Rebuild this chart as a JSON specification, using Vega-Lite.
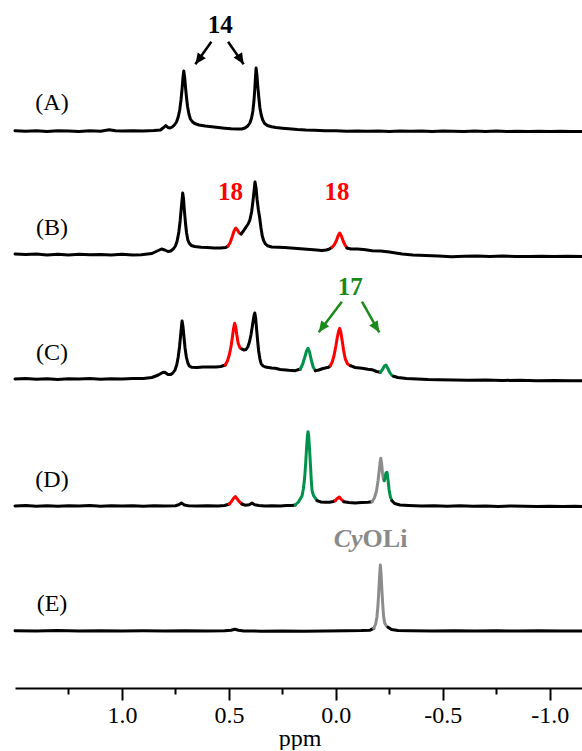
{
"$schema": "https://vega.github.io/schema/vega-lite/v6.json",
"padding": {"left": 13, "top": 12, "right": 0, "bottom": 0},
"background": "white",
"spacing": 0,
"bounds": "flush",
"data": {"values": [
{"s":"A","g":0,"c":"k","p":1.5,"v":0.3},{"s":"A","g":0,"c":"k","p":1.45,"v":-0.3},{"s":"A","g":0,"c":"k","p":1.4,"v":0.2},{"s":"A","g":0,"c":"k","p":1.35,"v":-0.4},{"s":"A","g":0,"c":"k","p":1.3,"v":0.3},{"s":"A","g":0,"c":"k","p":1.25,"v":0},{"s":"A","g":0,"c":"k","p":1.2,"v":-0.5},{"s":"A","g":0,"c":"k","p":1.15,"v":0.2},{"s":"A","g":0,"c":"k","p":1.1,"v":-0.2},{"s":"A","g":0,"c":"k","p":1.06,"v":1.3},{"s":"A","g":0,"c":"k","p":1.03,"v":0.2},{"s":"A","g":0,"c":"k","p":1.0,"v":0},{"s":"A","g":0,"c":"k","p":0.95,"v":0.3},{"s":"A","g":0,"c":"k","p":0.9,"v":0},{"s":"A","g":0,"c":"k","p":0.85,"v":0.5},{"s":"A","g":0,"c":"k","p":0.82,"v":1},{"s":"A","g":0,"c":"k","p":0.805,"v":3.5},{"s":"A","g":0,"c":"k","p":0.795,"v":5.5},{"s":"A","g":0,"c":"k","p":0.785,"v":3.5},{"s":"A","g":0,"c":"k","p":0.775,"v":3},{"s":"A","g":0,"c":"k","p":0.765,"v":4},{"s":"A","g":0,"c":"k","p":0.755,"v":6},{"s":"A","g":0,"c":"k","p":0.745,"v":9},{"s":"A","g":0,"c":"k","p":0.737,"v":14},{"s":"A","g":0,"c":"k","p":0.73,"v":21},{"s":"A","g":0,"c":"k","p":0.724,"v":31},{"s":"A","g":0,"c":"k","p":0.719,"v":42},{"s":"A","g":0,"c":"k","p":0.715,"v":53},{"s":"A","g":0,"c":"k","p":0.711,"v":60},{"s":"A","g":0,"c":"k","p":0.707,"v":54},{"s":"A","g":0,"c":"k","p":0.703,"v":44},{"s":"A","g":0,"c":"k","p":0.698,"v":33},{"s":"A","g":0,"c":"k","p":0.693,"v":24},{"s":"A","g":0,"c":"k","p":0.687,"v":17},{"s":"A","g":0,"c":"k","p":0.68,"v":12},{"s":"A","g":0,"c":"k","p":0.672,"v":9.5},{"s":"A","g":0,"c":"k","p":0.66,"v":7.5},{"s":"A","g":0,"c":"k","p":0.64,"v":6},{"s":"A","g":0,"c":"k","p":0.61,"v":5},{"s":"A","g":0,"c":"k","p":0.58,"v":4.3},{"s":"A","g":0,"c":"k","p":0.55,"v":3.5},{"s":"A","g":0,"c":"k","p":0.52,"v":2.8},{"s":"A","g":0,"c":"k","p":0.49,"v":2.2},{"s":"A","g":0,"c":"k","p":0.46,"v":2},{"s":"A","g":0,"c":"k","p":0.44,"v":2},{"s":"A","g":0,"c":"k","p":0.425,"v":3},{"s":"A","g":0,"c":"k","p":0.412,"v":5},{"s":"A","g":0,"c":"k","p":0.402,"v":8},{"s":"A","g":0,"c":"k","p":0.394,"v":13},{"s":"A","g":0,"c":"k","p":0.388,"v":20},{"s":"A","g":0,"c":"k","p":0.383,"v":30},{"s":"A","g":0,"c":"k","p":0.379,"v":42},{"s":"A","g":0,"c":"k","p":0.376,"v":53},{"s":"A","g":0,"c":"k","p":0.373,"v":63},{"s":"A","g":0,"c":"k","p":0.369,"v":56},{"s":"A","g":0,"c":"k","p":0.365,"v":45},{"s":"A","g":0,"c":"k","p":0.36,"v":33},{"s":"A","g":0,"c":"k","p":0.355,"v":23},{"s":"A","g":0,"c":"k","p":0.349,"v":16},{"s":"A","g":0,"c":"k","p":0.342,"v":11},{"s":"A","g":0,"c":"k","p":0.333,"v":7.5},{"s":"A","g":0,"c":"k","p":0.32,"v":5.5},{"s":"A","g":0,"c":"k","p":0.3,"v":4.2},{"s":"A","g":0,"c":"k","p":0.28,"v":3.5},{"s":"A","g":0,"c":"k","p":0.25,"v":2.8},{"s":"A","g":0,"c":"k","p":0.22,"v":2.2},{"s":"A","g":0,"c":"k","p":0.18,"v":1.5},{"s":"A","g":0,"c":"k","p":0.14,"v":1},{"s":"A","g":0,"c":"k","p":0.1,"v":0.7},{"s":"A","g":0,"c":"k","p":0.05,"v":0.3},{"s":"A","g":0,"c":"k","p":0,"v":0.2},{"s":"A","g":0,"c":"k","p":-0.05,"v":-0.2},{"s":"A","g":0,"c":"k","p":-0.1,"v":0.1},{"s":"A","g":0,"c":"k","p":-0.15,"v":-0.3},{"s":"A","g":0,"c":"k","p":-0.2,"v":0},{"s":"A","g":0,"c":"k","p":-0.25,"v":-0.4},{"s":"A","g":0,"c":"k","p":-0.3,"v":0.1},{"s":"A","g":0,"c":"k","p":-0.35,"v":-0.3},{"s":"A","g":0,"c":"k","p":-0.4,"v":0},{"s":"A","g":0,"c":"k","p":-0.45,"v":-0.5},{"s":"A","g":0,"c":"k","p":-0.5,"v":0},{"s":"A","g":0,"c":"k","p":-0.55,"v":-0.2},{"s":"A","g":0,"c":"k","p":-0.6,"v":-0.5},{"s":"A","g":0,"c":"k","p":-0.65,"v":0},{"s":"A","g":0,"c":"k","p":-0.7,"v":-0.4},{"s":"A","g":0,"c":"k","p":-0.75,"v":-0.1},{"s":"A","g":0,"c":"k","p":-0.8,"v":-0.5},{"s":"A","g":0,"c":"k","p":-0.85,"v":-0.2},{"s":"A","g":0,"c":"k","p":-0.9,"v":-0.6},{"s":"A","g":0,"c":"k","p":-0.95,"v":-0.2},{"s":"A","g":0,"c":"k","p":-1.0,"v":-0.5},{"s":"A","g":0,"c":"k","p":-1.05,"v":-0.3},{"s":"A","g":0,"c":"k","p":-1.1,"v":-0.6},{"s":"A","g":0,"c":"k","p":-1.16,"v":-0.4},

{"s":"B","g":0,"c":"k","p":1.5,"v":2},{"s":"B","g":0,"c":"k","p":1.45,"v":1.5},{"s":"B","g":0,"c":"k","p":1.4,"v":2},{"s":"B","g":0,"c":"k","p":1.35,"v":1},{"s":"B","g":0,"c":"k","p":1.3,"v":1.8},{"s":"B","g":0,"c":"k","p":1.25,"v":1},{"s":"B","g":0,"c":"k","p":1.2,"v":1.7},{"s":"B","g":0,"c":"k","p":1.15,"v":1.2},{"s":"B","g":0,"c":"k","p":1.1,"v":1.6},{"s":"B","g":0,"c":"k","p":1.05,"v":1},{"s":"B","g":0,"c":"k","p":1.0,"v":1.7},{"s":"B","g":0,"c":"k","p":0.95,"v":1},{"s":"B","g":0,"c":"k","p":0.91,"v":1.3},{"s":"B","g":0,"c":"k","p":0.86,"v":2.5},{"s":"B","g":0,"c":"k","p":0.835,"v":5},{"s":"B","g":0,"c":"k","p":0.815,"v":7},{"s":"B","g":0,"c":"k","p":0.8,"v":6},{"s":"B","g":0,"c":"k","p":0.785,"v":4.5},{"s":"B","g":0,"c":"k","p":0.772,"v":5},{"s":"B","g":0,"c":"k","p":0.76,"v":7},{"s":"B","g":0,"c":"k","p":0.75,"v":10},{"s":"B","g":0,"c":"k","p":0.742,"v":15},{"s":"B","g":0,"c":"k","p":0.734,"v":24},{"s":"B","g":0,"c":"k","p":0.728,"v":35},{"s":"B","g":0,"c":"k","p":0.723,"v":47},{"s":"B","g":0,"c":"k","p":0.719,"v":56},{"s":"B","g":0,"c":"k","p":0.716,"v":63},{"s":"B","g":0,"c":"k","p":0.712,"v":57},{"s":"B","g":0,"c":"k","p":0.708,"v":45},{"s":"B","g":0,"c":"k","p":0.703,"v":33},{"s":"B","g":0,"c":"k","p":0.698,"v":23},{"s":"B","g":0,"c":"k","p":0.692,"v":16},{"s":"B","g":0,"c":"k","p":0.686,"v":13},{"s":"B","g":0,"c":"k","p":0.676,"v":10.5},{"s":"B","g":0,"c":"k","p":0.66,"v":9.5},{"s":"B","g":0,"c":"k","p":0.63,"v":8.8},{"s":"B","g":0,"c":"k","p":0.6,"v":8.5},{"s":"B","g":0,"c":"k","p":0.57,"v":8},{"s":"B","g":0,"c":"k","p":0.54,"v":8},{"s":"B","g":0,"c":"k","p":0.515,"v":8.5},{"s":"B","g":0,"c":"k","p":0.504,"v":10},
{"s":"B","g":1,"c":"r","p":0.504,"v":10},{"s":"B","g":1,"c":"r","p":0.495,"v":13},{"s":"B","g":1,"c":"r","p":0.485,"v":19},{"s":"B","g":1,"c":"r","p":0.476,"v":25},{"s":"B","g":1,"c":"r","p":0.468,"v":28},{"s":"B","g":1,"c":"r","p":0.46,"v":26},{"s":"B","g":1,"c":"r","p":0.452,"v":23},{"s":"B","g":1,"c":"r","p":0.443,"v":22},
{"s":"B","g":2,"c":"k","p":0.443,"v":22},{"s":"B","g":2,"c":"k","p":0.432,"v":25},{"s":"B","g":2,"c":"k","p":0.42,"v":29},{"s":"B","g":2,"c":"k","p":0.41,"v":32},{"s":"B","g":2,"c":"k","p":0.402,"v":36},{"s":"B","g":2,"c":"k","p":0.394,"v":44},{"s":"B","g":2,"c":"k","p":0.388,"v":54},{"s":"B","g":2,"c":"k","p":0.383,"v":64},{"s":"B","g":2,"c":"k","p":0.378,"v":74},{"s":"B","g":2,"c":"k","p":0.373,"v":68},{"s":"B","g":2,"c":"k","p":0.368,"v":56},{"s":"B","g":2,"c":"k","p":0.362,"v":46},{"s":"B","g":2,"c":"k","p":0.356,"v":38},{"s":"B","g":2,"c":"k","p":0.35,"v":28},{"s":"B","g":2,"c":"k","p":0.344,"v":20},{"s":"B","g":2,"c":"k","p":0.337,"v":15},{"s":"B","g":2,"c":"k","p":0.329,"v":12},{"s":"B","g":2,"c":"k","p":0.32,"v":10.3},{"s":"B","g":2,"c":"k","p":0.3,"v":9},{"s":"B","g":2,"c":"k","p":0.27,"v":8.7},{"s":"B","g":2,"c":"k","p":0.24,"v":8.5},{"s":"B","g":2,"c":"k","p":0.21,"v":8},{"s":"B","g":2,"c":"k","p":0.18,"v":7.5},{"s":"B","g":2,"c":"k","p":0.15,"v":7},{"s":"B","g":2,"c":"k","p":0.12,"v":6.5},{"s":"B","g":2,"c":"k","p":0.09,"v":6},{"s":"B","g":2,"c":"k","p":0.065,"v":5.5},{"s":"B","g":2,"c":"k","p":0.045,"v":6},{"s":"B","g":2,"c":"k","p":0.03,"v":7},{"s":"B","g":2,"c":"k","p":0.018,"v":8.7},
{"s":"B","g":3,"c":"r","p":0.018,"v":8.7},{"s":"B","g":3,"c":"r","p":0.008,"v":11},{"s":"B","g":3,"c":"r","p":-0.002,"v":15},{"s":"B","g":3,"c":"r","p":-0.01,"v":20},{"s":"B","g":3,"c":"r","p":-0.018,"v":23},{"s":"B","g":3,"c":"r","p":-0.026,"v":20},{"s":"B","g":3,"c":"r","p":-0.034,"v":15},{"s":"B","g":3,"c":"r","p":-0.043,"v":11},{"s":"B","g":3,"c":"r","p":-0.052,"v":8},
{"s":"B","g":4,"c":"k","p":-0.052,"v":8},{"s":"B","g":4,"c":"k","p":-0.07,"v":7},{"s":"B","g":4,"c":"k","p":-0.1,"v":7},{"s":"B","g":4,"c":"k","p":-0.13,"v":6.5},{"s":"B","g":4,"c":"k","p":-0.17,"v":5.3},{"s":"B","g":4,"c":"k","p":-0.21,"v":5},{"s":"B","g":4,"c":"k","p":-0.25,"v":4},{"s":"B","g":4,"c":"k","p":-0.31,"v":2},{"s":"B","g":4,"c":"k","p":-0.36,"v":1},{"s":"B","g":4,"c":"k","p":-0.42,"v":0.5},{"s":"B","g":4,"c":"k","p":-0.48,"v":0},{"s":"B","g":4,"c":"k","p":-0.54,"v":-0.7},{"s":"B","g":4,"c":"k","p":-0.6,"v":-0.3},{"s":"B","g":4,"c":"k","p":-0.66,"v":0},{"s":"B","g":4,"c":"k","p":-0.72,"v":-0.5},{"s":"B","g":4,"c":"k","p":-0.78,"v":0},{"s":"B","g":4,"c":"k","p":-0.84,"v":-0.4},{"s":"B","g":4,"c":"k","p":-0.9,"v":-0.6},{"s":"B","g":4,"c":"k","p":-0.96,"v":-0.2},{"s":"B","g":4,"c":"k","p":-1.02,"v":-0.5},{"s":"B","g":4,"c":"k","p":-1.08,"v":-0.2},{"s":"B","g":4,"c":"k","p":-1.16,"v":-0.5},

{"s":"C","g":0,"c":"k","p":1.5,"v":2},{"s":"C","g":0,"c":"k","p":1.45,"v":2.4},{"s":"C","g":0,"c":"k","p":1.4,"v":1.8},{"s":"C","g":0,"c":"k","p":1.35,"v":2.3},{"s":"C","g":0,"c":"k","p":1.3,"v":1.6},{"s":"C","g":0,"c":"k","p":1.25,"v":2.2},{"s":"C","g":0,"c":"k","p":1.2,"v":2},{"s":"C","g":0,"c":"k","p":1.15,"v":2.5},{"s":"C","g":0,"c":"k","p":1.1,"v":1.8},{"s":"C","g":0,"c":"k","p":1.05,"v":2.3},{"s":"C","g":0,"c":"k","p":1.0,"v":2},{"s":"C","g":0,"c":"k","p":0.95,"v":2.6},{"s":"C","g":0,"c":"k","p":0.9,"v":2.5},{"s":"C","g":0,"c":"k","p":0.86,"v":3.5},{"s":"C","g":0,"c":"k","p":0.83,"v":6},{"s":"C","g":0,"c":"k","p":0.81,"v":8.5},{"s":"C","g":0,"c":"k","p":0.8,"v":8.7},{"s":"C","g":0,"c":"k","p":0.785,"v":6.5},{"s":"C","g":0,"c":"k","p":0.772,"v":6.5},{"s":"C","g":0,"c":"k","p":0.762,"v":8},{"s":"C","g":0,"c":"k","p":0.752,"v":11},{"s":"C","g":0,"c":"k","p":0.744,"v":16},{"s":"C","g":0,"c":"k","p":0.737,"v":24},{"s":"C","g":0,"c":"k","p":0.731,"v":34},{"s":"C","g":0,"c":"k","p":0.726,"v":45},{"s":"C","g":0,"c":"k","p":0.722,"v":54},{"s":"C","g":0,"c":"k","p":0.719,"v":60},{"s":"C","g":0,"c":"k","p":0.715,"v":55},{"s":"C","g":0,"c":"k","p":0.71,"v":44},{"s":"C","g":0,"c":"k","p":0.705,"v":33},{"s":"C","g":0,"c":"k","p":0.699,"v":24},{"s":"C","g":0,"c":"k","p":0.692,"v":18},{"s":"C","g":0,"c":"k","p":0.685,"v":15},{"s":"C","g":0,"c":"k","p":0.673,"v":13.7},{"s":"C","g":0,"c":"k","p":0.65,"v":13.5},{"s":"C","g":0,"c":"k","p":0.62,"v":14},{"s":"C","g":0,"c":"k","p":0.59,"v":14},{"s":"C","g":0,"c":"k","p":0.56,"v":14},{"s":"C","g":0,"c":"k","p":0.538,"v":14.5},{"s":"C","g":0,"c":"k","p":0.517,"v":16},
{"s":"C","g":1,"c":"r","p":0.517,"v":16},{"s":"C","g":1,"c":"r","p":0.507,"v":20},{"s":"C","g":1,"c":"r","p":0.497,"v":27},{"s":"C","g":1,"c":"r","p":0.489,"v":36},{"s":"C","g":1,"c":"r","p":0.483,"v":45},{"s":"C","g":1,"c":"r","p":0.478,"v":53},{"s":"C","g":1,"c":"r","p":0.473,"v":57.7},{"s":"C","g":1,"c":"r","p":0.468,"v":54},{"s":"C","g":1,"c":"r","p":0.463,"v":46},{"s":"C","g":1,"c":"r","p":0.457,"v":38},{"s":"C","g":1,"c":"r","p":0.448,"v":33},{"s":"C","g":1,"c":"r","p":0.439,"v":32},
{"s":"C","g":2,"c":"k","p":0.439,"v":32},{"s":"C","g":2,"c":"k","p":0.43,"v":31},{"s":"C","g":2,"c":"k","p":0.42,"v":31.5},{"s":"C","g":2,"c":"k","p":0.412,"v":34},{"s":"C","g":2,"c":"k","p":0.404,"v":39},{"s":"C","g":2,"c":"k","p":0.397,"v":46},{"s":"C","g":2,"c":"k","p":0.391,"v":54},{"s":"C","g":2,"c":"k","p":0.386,"v":61},{"s":"C","g":2,"c":"k","p":0.382,"v":66},{"s":"C","g":2,"c":"k","p":0.379,"v":68},{"s":"C","g":2,"c":"k","p":0.375,"v":63},{"s":"C","g":2,"c":"k","p":0.371,"v":53},{"s":"C","g":2,"c":"k","p":0.366,"v":41},{"s":"C","g":2,"c":"k","p":0.361,"v":30},{"s":"C","g":2,"c":"k","p":0.355,"v":22},{"s":"C","g":2,"c":"k","p":0.349,"v":17},{"s":"C","g":2,"c":"k","p":0.34,"v":15},{"s":"C","g":2,"c":"k","p":0.33,"v":14},{"s":"C","g":2,"c":"k","p":0.3,"v":13},{"s":"C","g":2,"c":"k","p":0.283,"v":12.7},{"s":"C","g":2,"c":"k","p":0.26,"v":11.5},{"s":"C","g":2,"c":"k","p":0.22,"v":10.7},{"s":"C","g":2,"c":"k","p":0.19,"v":10.3},{"s":"C","g":2,"c":"k","p":0.166,"v":12},
{"s":"C","g":3,"c":"g","p":0.166,"v":12},{"s":"C","g":3,"c":"g","p":0.155,"v":17},{"s":"C","g":3,"c":"g","p":0.145,"v":24},{"s":"C","g":3,"c":"g","p":0.137,"v":30},{"s":"C","g":3,"c":"g","p":0.13,"v":32.7},{"s":"C","g":3,"c":"g","p":0.123,"v":29},{"s":"C","g":3,"c":"g","p":0.115,"v":21},{"s":"C","g":3,"c":"g","p":0.106,"v":14},{"s":"C","g":3,"c":"g","p":0.096,"v":10.3},
{"s":"C","g":4,"c":"k","p":0.096,"v":10.3},{"s":"C","g":4,"c":"k","p":0.08,"v":11},{"s":"C","g":4,"c":"k","p":0.06,"v":12.5},{"s":"C","g":4,"c":"k","p":0.034,"v":13.7},{"s":"C","g":4,"c":"k","p":0.026,"v":15.3},
{"s":"C","g":5,"c":"r","p":0.026,"v":15.3},{"s":"C","g":5,"c":"r","p":0.017,"v":19},{"s":"C","g":5,"c":"r","p":0.008,"v":26},{"s":"C","g":5,"c":"r","p":0,"v":35},{"s":"C","g":5,"c":"r","p":-0.007,"v":44},{"s":"C","g":5,"c":"r","p":-0.013,"v":50},{"s":"C","g":5,"c":"r","p":-0.018,"v":52.7},{"s":"C","g":5,"c":"r","p":-0.023,"v":49},{"s":"C","g":5,"c":"r","p":-0.029,"v":41},{"s":"C","g":5,"c":"r","p":-0.036,"v":31},{"s":"C","g":5,"c":"r","p":-0.044,"v":22},{"s":"C","g":5,"c":"r","p":-0.055,"v":17},{"s":"C","g":5,"c":"r","p":-0.068,"v":15.3},
{"s":"C","g":6,"c":"k","p":-0.068,"v":15.3},{"s":"C","g":6,"c":"k","p":-0.09,"v":13.5},{"s":"C","g":6,"c":"k","p":-0.122,"v":12.7},{"s":"C","g":6,"c":"k","p":-0.15,"v":11.7},{"s":"C","g":6,"c":"k","p":-0.169,"v":11.3},{"s":"C","g":6,"c":"k","p":-0.19,"v":9.5},{"s":"C","g":6,"c":"k","p":-0.208,"v":8.7},
{"s":"C","g":7,"c":"g","p":-0.208,"v":8.7},{"s":"C","g":7,"c":"g","p":-0.218,"v":11.5},{"s":"C","g":7,"c":"g","p":-0.227,"v":15},{"s":"C","g":7,"c":"g","p":-0.234,"v":16},{"s":"C","g":7,"c":"g","p":-0.242,"v":13},{"s":"C","g":7,"c":"g","p":-0.252,"v":8.5},{"s":"C","g":7,"c":"g","p":-0.262,"v":5.5},{"s":"C","g":7,"c":"g","p":-0.27,"v":4.7},
{"s":"C","g":8,"c":"k","p":-0.27,"v":4.7},{"s":"C","g":8,"c":"k","p":-0.29,"v":3.5},{"s":"C","g":8,"c":"k","p":-0.33,"v":2.5},{"s":"C","g":8,"c":"k","p":-0.38,"v":2},{"s":"C","g":8,"c":"k","p":-0.43,"v":1.5},{"s":"C","g":8,"c":"k","p":-0.48,"v":1.3},{"s":"C","g":8,"c":"k","p":-0.55,"v":1},{"s":"C","g":8,"c":"k","p":-0.62,"v":0.7},{"s":"C","g":8,"c":"k","p":-0.7,"v":1},{"s":"C","g":8,"c":"k","p":-0.78,"v":0.5},{"s":"C","g":8,"c":"k","p":-0.86,"v":0.8},{"s":"C","g":8,"c":"k","p":-0.94,"v":0.3},{"s":"C","g":8,"c":"k","p":-1.02,"v":0.5},{"s":"C","g":8,"c":"k","p":-1.1,"v":0.2},{"s":"C","g":8,"c":"k","p":-1.16,"v":0.3},

{"s":"D","g":0,"c":"k","p":1.5,"v":0},{"s":"D","g":0,"c":"k","p":1.45,"v":0.4},{"s":"D","g":0,"c":"k","p":1.4,"v":-0.2},{"s":"D","g":0,"c":"k","p":1.35,"v":0.3},{"s":"D","g":0,"c":"k","p":1.3,"v":-0.3},{"s":"D","g":0,"c":"k","p":1.25,"v":0.2},{"s":"D","g":0,"c":"k","p":1.2,"v":0},{"s":"D","g":0,"c":"k","p":1.15,"v":0.5},{"s":"D","g":0,"c":"k","p":1.1,"v":-0.2},{"s":"D","g":0,"c":"k","p":1.05,"v":0.3},{"s":"D","g":0,"c":"k","p":1.0,"v":0},{"s":"D","g":0,"c":"k","p":0.95,"v":0.3},{"s":"D","g":0,"c":"k","p":0.9,"v":-0.2},{"s":"D","g":0,"c":"k","p":0.85,"v":0.2},{"s":"D","g":0,"c":"k","p":0.8,"v":0},{"s":"D","g":0,"c":"k","p":0.75,"v":0.3},{"s":"D","g":0,"c":"k","p":0.735,"v":1.2},{"s":"D","g":0,"c":"k","p":0.722,"v":3},{"s":"D","g":0,"c":"k","p":0.708,"v":1},{"s":"D","g":0,"c":"k","p":0.69,"v":0.3},{"s":"D","g":0,"c":"k","p":0.65,"v":0},{"s":"D","g":0,"c":"k","p":0.6,"v":0.2},{"s":"D","g":0,"c":"k","p":0.55,"v":0},{"s":"D","g":0,"c":"k","p":0.52,"v":0.5},{"s":"D","g":0,"c":"k","p":0.498,"v":2},
{"s":"D","g":1,"c":"r","p":0.498,"v":2},{"s":"D","g":1,"c":"r","p":0.488,"v":4.5},{"s":"D","g":1,"c":"r","p":0.479,"v":7.5},{"s":"D","g":1,"c":"r","p":0.47,"v":9.5},{"s":"D","g":1,"c":"r","p":0.461,"v":7},{"s":"D","g":1,"c":"r","p":0.45,"v":4},{"s":"D","g":1,"c":"r","p":0.439,"v":2},
{"s":"D","g":2,"c":"k","p":0.439,"v":2},{"s":"D","g":2,"c":"k","p":0.425,"v":0.8},{"s":"D","g":2,"c":"k","p":0.405,"v":1.2},{"s":"D","g":2,"c":"k","p":0.392,"v":3},{"s":"D","g":2,"c":"k","p":0.38,"v":1.2},{"s":"D","g":2,"c":"k","p":0.36,"v":0.5},{"s":"D","g":2,"c":"k","p":0.33,"v":0},{"s":"D","g":2,"c":"k","p":0.3,"v":0.3},{"s":"D","g":2,"c":"k","p":0.26,"v":0},{"s":"D","g":2,"c":"k","p":0.23,"v":0.4},{"s":"D","g":2,"c":"k","p":0.205,"v":0.6},{"s":"D","g":2,"c":"k","p":0.19,"v":1},
{"s":"D","g":3,"c":"g","p":0.19,"v":1},{"s":"D","g":3,"c":"g","p":0.175,"v":4},{"s":"D","g":3,"c":"g","p":0.158,"v":10.3},{"s":"D","g":3,"c":"g","p":0.152,"v":17},{"s":"D","g":3,"c":"g","p":0.146,"v":28},{"s":"D","g":3,"c":"g","p":0.141,"v":43},{"s":"D","g":3,"c":"g","p":0.137,"v":58},{"s":"D","g":3,"c":"g","p":0.133,"v":70},{"s":"D","g":3,"c":"g","p":0.13,"v":74.3},{"s":"D","g":3,"c":"g","p":0.127,"v":70},{"s":"D","g":3,"c":"g","p":0.123,"v":57},{"s":"D","g":3,"c":"g","p":0.119,"v":42},{"s":"D","g":3,"c":"g","p":0.115,"v":26},{"s":"D","g":3,"c":"g","p":0.111,"v":15},{"s":"D","g":3,"c":"g","p":0.104,"v":10.3},{"s":"D","g":3,"c":"g","p":0.088,"v":5.3},
{"s":"D","g":4,"c":"k","p":0.088,"v":5.3},{"s":"D","g":4,"c":"k","p":0.07,"v":4},{"s":"D","g":4,"c":"k","p":0.05,"v":3.7},{"s":"D","g":4,"c":"k","p":0.03,"v":3.7},{"s":"D","g":4,"c":"k","p":0.012,"v":4.5},{"s":"D","g":4,"c":"k","p":0.003,"v":5.3},
{"s":"D","g":5,"c":"r","p":0.003,"v":5.3},{"s":"D","g":5,"c":"r","p":-0.006,"v":7.5},{"s":"D","g":5,"c":"r","p":-0.016,"v":9},{"s":"D","g":5,"c":"r","p":-0.026,"v":6.5},{"s":"D","g":5,"c":"r","p":-0.037,"v":4.3},
{"s":"D","g":6,"c":"k","p":-0.037,"v":4.3},{"s":"D","g":6,"c":"k","p":-0.06,"v":3.5},{"s":"D","g":6,"c":"k","p":-0.09,"v":3},{"s":"D","g":6,"c":"k","p":-0.12,"v":3.5},{"s":"D","g":6,"c":"k","p":-0.15,"v":3.8},{"s":"D","g":6,"c":"k","p":-0.169,"v":4.3},
{"s":"D","g":7,"c":"y","p":-0.169,"v":4.3},{"s":"D","g":7,"c":"y","p":-0.18,"v":8},{"s":"D","g":7,"c":"y","p":-0.19,"v":15},{"s":"D","g":7,"c":"y","p":-0.197,"v":25},{"s":"D","g":7,"c":"y","p":-0.203,"v":36},{"s":"D","g":7,"c":"y","p":-0.207,"v":44},{"s":"D","g":7,"c":"y","p":-0.21,"v":47.7},{"s":"D","g":7,"c":"y","p":-0.214,"v":42},{"s":"D","g":7,"c":"y","p":-0.218,"v":33},{"s":"D","g":7,"c":"y","p":-0.222,"v":27},{"s":"D","g":7,"c":"y","p":-0.226,"v":25.3},
{"s":"D","g":8,"c":"g","p":-0.226,"v":25.3},{"s":"D","g":8,"c":"g","p":-0.23,"v":28},{"s":"D","g":8,"c":"g","p":-0.234,"v":33},{"s":"D","g":8,"c":"g","p":-0.239,"v":33.7},{"s":"D","g":8,"c":"g","p":-0.244,"v":26},{"s":"D","g":8,"c":"g","p":-0.249,"v":16},{"s":"D","g":8,"c":"g","p":-0.255,"v":9},{"s":"D","g":8,"c":"g","p":-0.262,"v":5.3},
{"s":"D","g":9,"c":"k","p":-0.262,"v":5.3},{"s":"D","g":9,"c":"k","p":-0.275,"v":2.5},{"s":"D","g":9,"c":"k","p":-0.3,"v":1},{"s":"D","g":9,"c":"k","p":-0.34,"v":0.5},{"s":"D","g":9,"c":"k","p":-0.4,"v":0},{"s":"D","g":9,"c":"k","p":-0.46,"v":0.3},{"s":"D","g":9,"c":"k","p":-0.52,"v":-0.2},{"s":"D","g":9,"c":"k","p":-0.58,"v":0.2},{"s":"D","g":9,"c":"k","p":-0.64,"v":-0.3},{"s":"D","g":9,"c":"k","p":-0.7,"v":0},{"s":"D","g":9,"c":"k","p":-0.76,"v":-0.4},{"s":"D","g":9,"c":"k","p":-0.82,"v":0},{"s":"D","g":9,"c":"k","p":-0.88,"v":-0.3},{"s":"D","g":9,"c":"k","p":-0.94,"v":-0.5},{"s":"D","g":9,"c":"k","p":-1.0,"v":-0.2},{"s":"D","g":9,"c":"k","p":-1.06,"v":-0.5},{"s":"D","g":9,"c":"k","p":-1.12,"v":-0.3},{"s":"D","g":9,"c":"k","p":-1.16,"v":-0.5},

{"s":"E","g":0,"c":"k","p":1.5,"v":0.3},{"s":"E","g":0,"c":"k","p":1.4,"v":0},{"s":"E","g":0,"c":"k","p":1.3,"v":0.4},{"s":"E","g":0,"c":"k","p":1.2,"v":-0.1},{"s":"E","g":0,"c":"k","p":1.1,"v":0.3},{"s":"E","g":0,"c":"k","p":1.0,"v":0},{"s":"E","g":0,"c":"k","p":0.9,"v":0.2},{"s":"E","g":0,"c":"k","p":0.8,"v":0},{"s":"E","g":0,"c":"k","p":0.7,"v":0.3},{"s":"E","g":0,"c":"k","p":0.6,"v":0},{"s":"E","g":0,"c":"k","p":0.52,"v":0.2},{"s":"E","g":0,"c":"k","p":0.49,"v":0.8},{"s":"E","g":0,"c":"k","p":0.472,"v":1.8},{"s":"E","g":0,"c":"k","p":0.455,"v":0.8},{"s":"E","g":0,"c":"k","p":0.43,"v":0.1},{"s":"E","g":0,"c":"k","p":0.35,"v":-0.2},{"s":"E","g":0,"c":"k","p":0.25,"v":0},{"s":"E","g":0,"c":"k","p":0.15,"v":-0.3},{"s":"E","g":0,"c":"k","p":0.05,"v":0},{"s":"E","g":0,"c":"k","p":-0.05,"v":0.2},{"s":"E","g":0,"c":"k","p":-0.12,"v":0.4},{"s":"E","g":0,"c":"k","p":-0.16,"v":0.8},{"s":"E","g":0,"c":"k","p":-0.177,"v":2.7},
{"s":"E","g":1,"c":"y","p":-0.177,"v":2.7},{"s":"E","g":1,"c":"y","p":-0.186,"v":7},{"s":"E","g":1,"c":"y","p":-0.192,"v":14},{"s":"E","g":1,"c":"y","p":-0.197,"v":26},{"s":"E","g":1,"c":"y","p":-0.201,"v":41},{"s":"E","g":1,"c":"y","p":-0.205,"v":57},{"s":"E","g":1,"c":"y","p":-0.208,"v":66},{"s":"E","g":1,"c":"y","p":-0.211,"v":58},{"s":"E","g":1,"c":"y","p":-0.215,"v":42},{"s":"E","g":1,"c":"y","p":-0.219,"v":27},{"s":"E","g":1,"c":"y","p":-0.223,"v":15},{"s":"E","g":1,"c":"y","p":-0.228,"v":8},{"s":"E","g":1,"c":"y","p":-0.236,"v":5},{"s":"E","g":1,"c":"y","p":-0.244,"v":3.7},
{"s":"E","g":2,"c":"k","p":-0.244,"v":3.7},{"s":"E","g":2,"c":"k","p":-0.26,"v":1.5},{"s":"E","g":2,"c":"k","p":-0.29,"v":0.5},{"s":"E","g":2,"c":"k","p":-0.35,"v":0.3},{"s":"E","g":2,"c":"k","p":-0.45,"v":0},{"s":"E","g":2,"c":"k","p":-0.55,"v":0.3},{"s":"E","g":2,"c":"k","p":-0.65,"v":-0.1},{"s":"E","g":2,"c":"k","p":-0.75,"v":0.2},{"s":"E","g":2,"c":"k","p":-0.85,"v":0},{"s":"E","g":2,"c":"k","p":-0.95,"v":0.2},{"s":"E","g":2,"c":"k","p":-1.05,"v":-0.1},{"s":"E","g":2,"c":"k","p":-1.16,"v":0.1},

{"s":"A","t":"lab","p":1.327,"v":28,"txt":"(A)"},
{"s":"B","t":"lab","p":1.327,"v":28.5,"txt":"(B)"},
{"s":"C","t":"lab","p":1.327,"v":28,"txt":"(C)"},
{"s":"D","t":"lab","p":1.327,"v":26,"txt":"(D)"},
{"s":"E","t":"lab","p":1.327,"v":27,"txt":"(E)"},
{"s":"A","t":"num","c":"k","p":0.54,"v":106,"txt":"14"},
{"s":"B","t":"num","c":"r","p":0.493,"v":64,"txt":"18"},
{"s":"B","t":"num","c":"r","p":-0.005,"v":64,"txt":"18"},
{"s":"C","t":"num","c":"g2","p":-0.067,"v":93.7,"txt":"17"},
{"s":"E","t":"cy","c":"y2","p":-0.125,"v":92,"txt":"Cy"},
{"s":"E","t":"oli","c":"y2","p":-0.125,"v":92,"txt":"OLi"},
{"s":"A","t":"arr","d":"l","c":"k","p":0.582,"v":89.3,"p2":0.657,"v2":66.7},
{"s":"A","t":"arr","d":"r","c":"k","p":0.504,"v":89.3,"p2":0.431,"v2":66.7},
{"s":"C","t":"arr","d":"l","c":"g2","p":-0.028,"v":79.3,"p2":0.08,"v2":48.7},
{"s":"C","t":"arr","d":"r","c":"g2","p":-0.122,"v":79.3,"p2":-0.203,"v2":48.7}
]},
"facet": {"row": {"field": "s", "type": "nominal", "title": null, "header": {"labels": false, "title": null}}},
"spec": {
  "width": 569,
  "height": 125,
  "encoding": {
    "x": {"field": "p", "type": "quantitative", "title": "ppm",
      "scale": {"domain": [-1.16, 1.5], "reverse": true, "nice": false, "zero": false},
      "axis": {"title": "ppm", "values": [1.25, 1, 0.75, 0.5, 0.25, 0, -0.25, -0.5, -0.75, -1],
        "labelExpr": "abs(datum.value*2-round(datum.value*2))<0.01 ? replace(format(datum.value,'.1f'),'\u2212','-') : ''",
        "tickSize": {"condition": {"test": "abs(datum.value*2-round(datum.value*2))<0.01", "value": 12}, "value": 6},
        "tickWidth": 2, "tickColor": "#000", "domainWidth": 2, "domainColor": "#000",
        "labelColor": "#000", "labelFont": "Liberation Serif", "labelFontSize": 24, "labelPadding": 3, "labelOverlap": false, "labelFlush": false,
        "titleFont": "Liberation Serif", "titleFontSize": 24, "titleFontWeight": "normal", "titleColor": "#000", "titlePadding": -1,
        "grid": false}},
    "y": {"field": "v", "type": "quantitative", "scale": {"domain": [-57, 68], "nice": false, "zero": false}, "axis": null}
  },
  "layer": [
    {"transform": [{"filter": "datum.t == null"}],
     "mark": {"type": "line", "strokeWidth": 3, "strokeJoin": "round", "strokeCap": "round"},
     "encoding": {
       "color": {"field": "c", "type": "nominal", "legend": null,
         "scale": {"domain": ["k", "r", "g", "g2", "y", "y2"], "range": ["#000000", "#ff0000", "#00924a", "#1a8a1a", "#8c8c8c", "#8a8a8a"]}},
       "detail": {"field": "g", "type": "nominal"}}},
    {"transform": [{"filter": "datum.t == 'lab'"}],
     "mark": {"type": "text", "font": "Liberation Serif", "fontSize": 24, "color": "#000", "align": "center", "baseline": "middle"},
     "encoding": {"text": {"field": "txt", "type": "nominal"}}},
    {"transform": [{"filter": "datum.t == 'num'"}],
     "mark": {"type": "text", "font": "Liberation Serif", "fontSize": 25, "fontWeight": "bold", "align": "center", "baseline": "middle"},
     "encoding": {"text": {"field": "txt", "type": "nominal"}, "color": {"field": "c", "type": "nominal", "legend": null}}},
    {"transform": [{"filter": "datum.t == 'cy'"}],
     "mark": {"type": "text", "font": "Liberation Serif", "fontSize": 26, "fontWeight": "bold", "fontStyle": "italic", "align": "right", "baseline": "middle"},
     "encoding": {"text": {"field": "txt", "type": "nominal"}, "color": {"field": "c", "type": "nominal", "legend": null}}},
    {"transform": [{"filter": "datum.t == 'oli'"}],
     "mark": {"type": "text", "font": "Liberation Serif", "fontSize": 26, "fontWeight": "bold", "align": "left", "baseline": "middle"},
     "encoding": {"text": {"field": "txt", "type": "nominal"}, "color": {"field": "c", "type": "nominal", "legend": null}}},
    {"transform": [{"filter": "datum.t == 'arr'"}],
     "mark": {"type": "rule", "strokeWidth": 2.5},
     "encoding": {"x2": {"field": "p2"}, "y2": {"field": "v2"}, "color": {"field": "c", "type": "nominal", "legend": null}}},
    {"transform": [{"filter": "datum.t == 'arr' && datum.d == 'l'"}],
     "mark": {"type": "point", "shape": "M0,0L1,2.2L-1,2.2Z", "filled": true, "size": 100, "angle": 216, "opacity": 1, "strokeWidth": 0},
     "encoding": {"x": {"field": "p2", "type": "quantitative", "title": "ppm"}, "y": {"field": "v2", "type": "quantitative"}, "color": {"field": "c", "type": "nominal", "legend": null}}},
    {"transform": [{"filter": "datum.t == 'arr' && datum.d == 'r'"}],
     "mark": {"type": "point", "shape": "M0,0L1,2.2L-1,2.2Z", "filled": true, "size": 100, "angle": 148, "opacity": 1, "strokeWidth": 0},
     "encoding": {"x": {"field": "p2", "type": "quantitative", "title": "ppm"}, "y": {"field": "v2", "type": "quantitative"}, "color": {"field": "c", "type": "nominal", "legend": null}}}
  ]
},
"config": {
  "view": {"stroke": null},
  "font": "Liberation Serif",
  "axis": {"labelFont": "Liberation Serif", "labelFontSize": 24, "labelColor": "#000", "titleFont": "Liberation Serif", "titleFontSize": 24, "titleFontWeight": "normal", "titleColor": "#000"},
  "axisX": {"labelFont": "Liberation Serif", "labelFontSize": 24, "labelColor": "#000", "titleFont": "Liberation Serif", "titleFontSize": 24, "titleFontWeight": "normal", "titleColor": "#000", "titlePadding": -1, "labelPadding": 3}
}
}
